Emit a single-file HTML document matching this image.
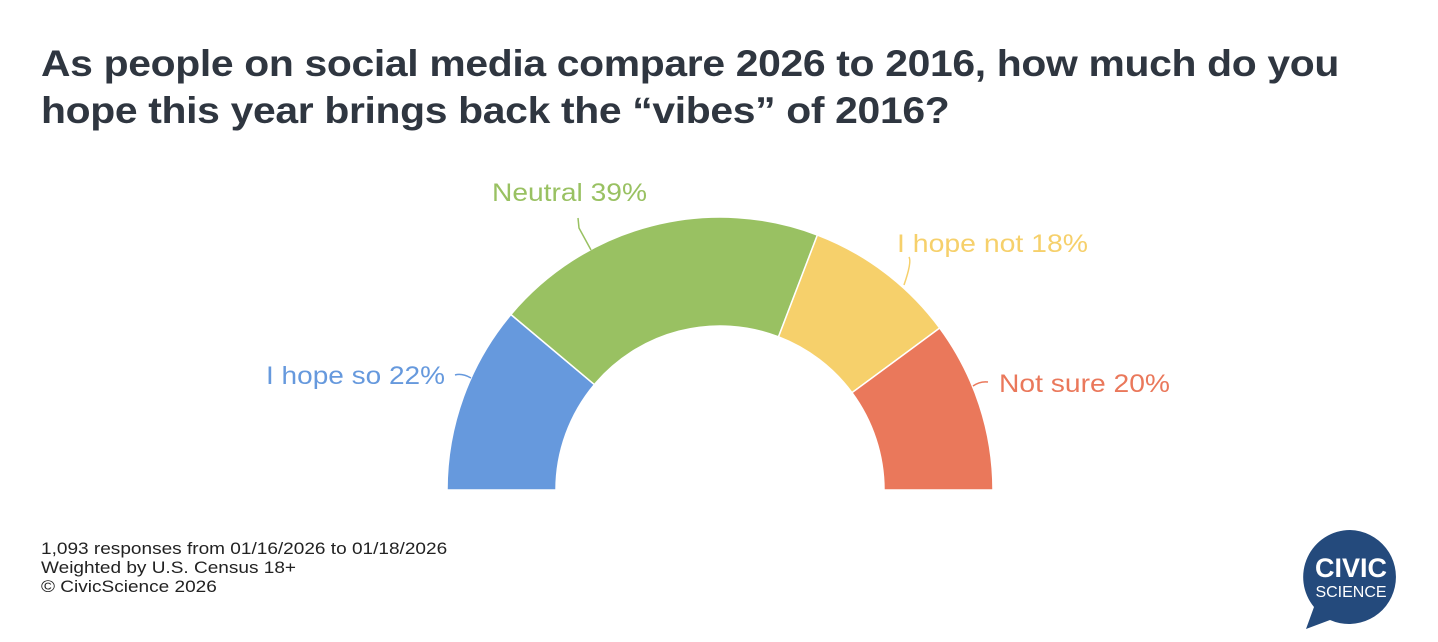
<!DOCTYPE html>
<html><head><meta charset="utf-8"><style>
body{margin:0;width:1438px;height:642px;background:#fff;font-family:"Liberation Sans",sans-serif;overflow:hidden;position:relative}
.t{position:absolute;left:41px;top:40px;font-size:37px;font-weight:bold;color:#2f3640;line-height:47px;letter-spacing:-0.3px;transform:scaleX(1.104);transform-origin:0 0;white-space:nowrap}
.f{position:absolute;left:41px;top:540px;font-size:16.5px;color:#222;line-height:19px;transform:scaleX(1.153);transform-origin:0 0;white-space:nowrap}
</style></head><body>
<div class="t">As people on social media compare 2026 to 2016, how much do you<br>hope this year brings back the “vibes” of 2016?</div>
<svg width="1438" height="642" style="position:absolute;left:0;top:0">
<g stroke="#fff" stroke-width="1.5">
<path d="M447,490 A273,273 0 0 1 510.9,314.5 L594.4,384.6 A164,164 0 0 0 556,490 Z" fill="#6699DD"/>
<path d="M510.9,314.5 A273,273 0 0 1 817.4,235 L778.5,336.8 A164,164 0 0 0 594.4,384.6 Z" fill="#99C162"/>
<path d="M817.4,235 A273,273 0 0 1 939.7,328 L852,392.7 A164,164 0 0 0 778.5,336.8 Z" fill="#F6D06B"/>
<path d="M939.7,328 A273,273 0 0 1 993,490 L884,490 A164,164 0 0 0 852,392.7 Z" fill="#EA785B"/>
</g>
<g fill="none" stroke-width="1.5">
<path d="M578,218 L579,228 L591,250" stroke="#99C162"/>
<path d="M455,375 Q462,373 471,378" stroke="#6699DD"/>
<path d="M909,257 Q912,262 904,285" stroke="#F6D06B"/>
<path d="M988,382 Q980,381 973,386" stroke="#EA785B"/>
</g>
<g font-size="25" font-family="Liberation Sans,sans-serif" lengthAdjust="spacingAndGlyphs">
<text x="492" y="201" fill="#99C162" textLength="155" lengthAdjust="spacingAndGlyphs">Neutral 39%</text>
<text x="266" y="384" fill="#6699DD" textLength="179" lengthAdjust="spacingAndGlyphs">I hope so 22%</text>
<text x="897" y="252" fill="#F6D06B" textLength="191" lengthAdjust="spacingAndGlyphs">I hope not 18%</text>
<text x="999" y="392" fill="#EA785B" textLength="171" lengthAdjust="spacingAndGlyphs">Not sure 20%</text>
</g>
<path d="M1350,530 a47,47 0 1 1 -20,90 l-24,9 l8,-22 a47,47 0 0 1 36,-77z" fill="#244a7c"/>
<text x="1351" y="577" text-anchor="middle" fill="#fff" font-size="27" font-weight="bold" font-family="Liberation Sans,sans-serif">CIVIC</text>
<text x="1351" y="597" text-anchor="middle" fill="#fff" font-size="16" font-family="Liberation Sans,sans-serif">SCIENCE</text>
</svg>
<div class="f">1,093 responses from 01/16/2026 to 01/18/2026<br>Weighted by U.S. Census 18+<br>© CivicScience 2026</div>
</body></html>
